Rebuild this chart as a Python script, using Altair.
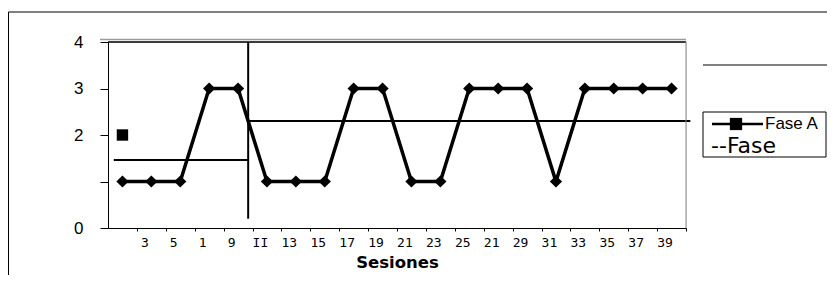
import altair as alt
import pandas as pd

# ---- data ----
sessions = [1, 3, 5, 7, 9, 11, 13, 15, 17, 19, 21, 23, 25, 27, 29, 31, 33, 35, 37, 39]
values = [1, 1, 1, 3, 3, 1, 1, 1, 3, 3, 1, 1, 3, 3, 3, 1, 3, 3, 3, 3]
x_tick_labels = ["3", "5", "1", "9", "II", "13", "15", "17", "19", "21", "23", "25",
                 "21", "29", "31", "33", "35", "37", "39"]
x_label_positions = [3, 5, 7, 9, 11, 13, 15, 17, 19, 21, 23, 25, 27, 29, 31, 33, 35, 37, 39]
x_tick_positions = list(range(2, 41, 2))
y_ticks = [0, 1, 2, 3, 4]
phase_start = [0.4, 9.7]
phase_end = [9.7, 40.3]
phase_mean = [1.46, 2.3]
phase_change = 9.7
square_session = [1]
square_value = [2]

W, H = 578, 186

main_df = pd.DataFrame({"session": sessions, "value": values})
phase_df = pd.DataFrame({"start": phase_start, "end": phase_end, "value": phase_mean})
vline_df = pd.DataFrame({"session": [phase_change], "value": [0.2], "value2": [4.0]})
sq_df = pd.DataFrame({"session": square_session, "value": square_value})
one = pd.DataFrame({"a": [0]})

xscale = alt.Scale(domain=[0, 40], nice=False, zero=False)
yscale = alt.Scale(domain=[0, 4], nice=False)

yaxis = alt.Axis(values=y_ticks, labelExpr="datum.value == 1 ? '' : datum.label",
                 grid=False, tickSize=8, tickColor="black", domainColor="black",
                 labelFont="Liberation Sans", labelFontSize=17, labelColor="black",
                 labelPadding=17, title=None)
yenc = alt.Y("value:Q", scale=yscale, axis=yaxis)

xaxis_ticks = alt.Axis(values=x_tick_positions, labels=False, grid=False, tickSize=3,
                       tickColor="black", domainColor="black", orient="bottom",
                       title="Sesiones", titleFont="DejaVu Sans", titleFontSize=16.5,
                       titleFontWeight="bold", titleColor="black", titlePadding=23)

arr = "[" + ",".join("'" + s + "'" for s in x_tick_labels) + "]"
xaxis_labels = alt.Axis(values=x_label_positions, ticks=False, domain=False, grid=False,
                        orient="bottom", labelExpr=arr + "[(datum.value-3)/2]",
                        labelFont="DejaVu Sans Mono", labelFontSize=13, labelColor="black",
                        labelPadding=8, labelOffset=-7, labelFlush=False,
                        labelOverlap=False, title=None)

line = alt.Chart(main_df).mark_line(color="black", strokeWidth=3.5).encode(
    x=alt.X("session:Q", scale=xscale, axis=xaxis_ticks), y=yenc)
pts = alt.Chart(main_df).mark_point(shape="diamond", filled=True, color="black",
                                    size=150, opacity=1).encode(
    x=alt.X("session:Q", scale=xscale, axis=xaxis_labels), y=yenc)
sq = alt.Chart(sq_df).mark_square(color="black", size=130, opacity=1).encode(
    x=alt.X("session:Q", scale=xscale, axis=None), y=yenc)
phase = alt.Chart(phase_df).mark_rule(color="black", strokeWidth=2).encode(
    x=alt.X("start:Q", scale=xscale, axis=None), x2="end:Q", y=yenc)
vline = alt.Chart(vline_df).mark_rule(color="black", strokeWidth=2).encode(
    x=alt.X("session:Q", scale=xscale, axis=None), y=yenc, y2="value2:Q")

def hrule(x1, x2, y, color="black", w=1):
    return alt.Chart(one).mark_rule(color=color, strokeWidth=w).encode(
        x=alt.value(x1), x2=alt.value(x2), y=alt.value(y))

def vrule(x, y1, y2, color="black", w=1):
    return alt.Chart(one).mark_rule(color=color, strokeWidth=w).encode(
        x=alt.value(x), y=alt.value(y1), y2=alt.value(y2))

top_black = hrule(0, W, 0, "black", 1.5)
top_gray = hrule(-8, W, -2.5, "#9a9a9a", 1.5)
right_gray = vrule(W, 0, H, "#8a8a8a", 1)
outer_top = hrule(-99.5, 719, -30, "black", 1)
outer_left = vrule(-99.5, -30, 233, "black", 1)
right_line = hrule(595, 719, 23, "black", 1)

legend_box = alt.Chart(one).mark_rect(fillOpacity=0, stroke="black", strokeWidth=1).encode(
    x=alt.value(595), x2=alt.value(718), y=alt.value(70), y2=alt.value(115))
legend_line = hrule(604, 655, 82, "black", 2.5)
legend_sq = alt.Chart(one).mark_square(color="black", size=150, opacity=1).encode(
    x=alt.value(628), y=alt.value(82))
legend_t1 = alt.Chart(one).mark_text(text="Fase A", align="left", baseline="middle",
                                     font="Liberation Sans", fontSize=17, color="black").encode(
    x=alt.value(657), y=alt.value(82))
legend_t2 = alt.Chart(one).mark_text(text="--Fase", align="left", baseline="middle",
                                     font="DejaVu Sans", fontSize=22, color="black").encode(
    x=alt.value(603), y=alt.value(104))

chart = alt.layer(
    line, pts, sq, phase, vline,
    top_gray, top_black, right_gray, outer_top, outer_left, right_line,
    legend_box, legend_line, legend_sq, legend_t1, legend_t2,
).resolve_axis(x="independent").properties(
    width=W, height=H,
    padding={"left": 100, "top": 34, "right": 141, "bottom": 47},
    autosize=alt.AutoSizeParams(type="none"),
).configure_view(strokeWidth=0).configure(background="white")

chart.save("out.html", embed_options={"renderer": "svg", "actions": False})
